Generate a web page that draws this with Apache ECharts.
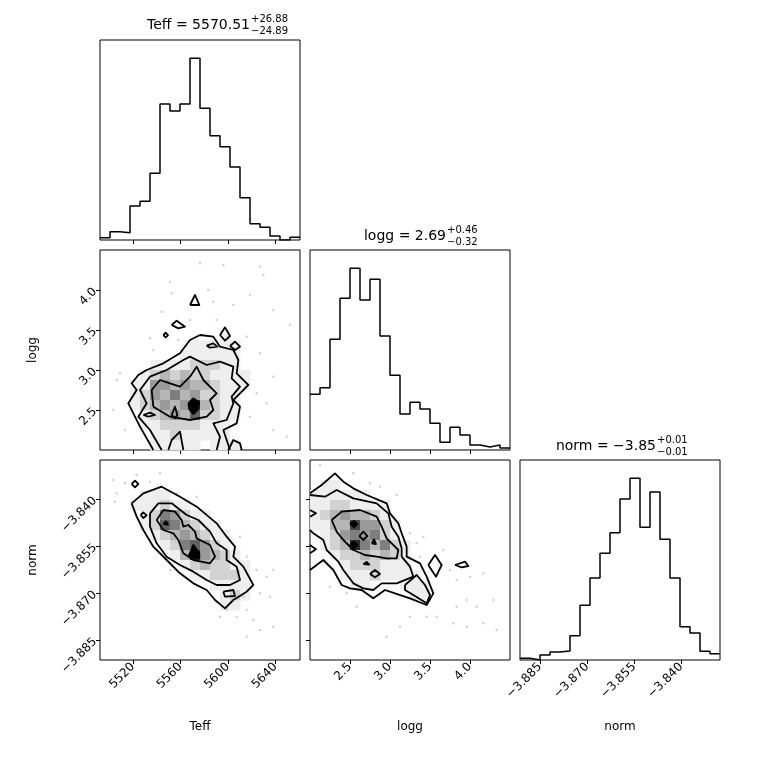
<!DOCTYPE html>
<html><head><meta charset="utf-8">
<script src="https://cdn.jsdelivr.net/npm/echarts@6/dist/echarts.min.js"></script>
<style>html,body{margin:0;background:#fff}#c{width:760px;height:760px}</style>
</head><body><div id="c"></div>
<script>
// ---- data ----
const paramNames = ['Teff','logg','norm'];
const teffRange = [5492.2, 5660.6];
const loggRange = [2.0, 4.5];
const normRange = [-3.8914, -3.8276];
const teffTicks = [5520, 5560, 5600, 5640];
const loggTicks = [2.5, 3.0, 3.5, 4.0];
const normTicks = [-3.885, -3.870, -3.855, -3.840];
// histogram heights (relative, 0-600 scale), 20 equal bins across axis range
const teffHist = [7,25,22,102,116,200,408,387,408,545,395,313,280,219,127,49,38,12,0,8];
const loggHist = [167,187,332,455,545,450,512,342,224,108,143,123,80,23,68,45,15,9,15,6];
const normHist = [5,0,15,24,27,73,164,246,320,382,483,545,398,504,362,246,100,81,26,19];
const titles = [
  {main:'Teff = 5570.51', up:'+26.88', dn:'\u221224.89'},
  {main:'logg = 2.69', up:'+0.46', dn:'\u22120.32'},
  {main:'norm = \u22123.85', up:'+0.01', dn:'\u22120.01'}
];
// 2D density, 20x20 bins, rows from top, digit = darkness level
const densTeffLogg = ["00000000000000000000","00000000000000000000","00000000000000000000","00000000000000000000",
"00000000000000000000","00000000000000000000","00000000000000000000","00000000000000000000",
"00000000000010000000","00000000011111000000","00000000111111000000","00000111122211000000",
"00001232322111100000","00011443433211100000","00012435342211000000","00012343483211000000",
"00001234362211000000","00001122221110000000","00000112111110000000","00000111110111000000"];
const densTeffNorm = ["00000000000000000000","00000000000000000000","00000000000000000000","00001110000000000000",
"00011121100000000000","00001254211000000000","00001265321100000000","00000123432110000000",
"00000012564210000000","00000001384321000000","00000000123221100000","00000000011222100000",
"00000000000111100000","00000000000012100000","00000000000011000000","00000000000000000000",
"00000000000000000000","00000000000000000000","00000000000000000000","00000000000000000000"];
const densLoggNorm = ["00000000000000000000","00000000000000000000","01100000000000000000","11111100000000000000",
"11221111000000000000","12343321000000000000","11337442100000000000","01245452100000000000",
"01238535210000000000","00122323210000000000","00012221110000000000","00011121111000000000",
"00001100011100000000","00000000001100000000","00000000000000000000","00000000000000000000",
"00000000000000000000","00000000000000000000","00000000000000000000","00000000000000000000"];
// contour polygons in panel fractions (0-600 across, 0-600 down); [points, filled]
const contTeffLogg = [
 [[[160,600],[120,530],[85,460],[110,420],[95,400],[115,375],[140,360],[190,340],[240,310],[270,270],[300,255],[340,260],[360,290],[400,300],[415,330],[410,370],[445,405],[420,430],[400,450],[420,470],[410,520],[370,540],[390,600]],0],
 [[[185,600],[150,540],[115,500],[140,460],[120,420],[150,380],[200,360],[250,330],[270,320],[320,345],[360,335],[400,350],[395,385],[420,410],[395,440],[400,460],[380,510],[340,520],[360,560],[350,600]],0],
 [[[160,470],[155,420],[180,390],[210,400],[240,410],[270,380],[290,350],[310,390],[350,430],[330,450],[340,480],[320,500],[270,510],[210,500],[160,470]],0],
 [[[270,165],[285,135],[298,165],[270,165]],0],
 [[[215,225],[230,212],[255,230],[235,235],[215,225]],0],
 [[[190,255],[197,248],[204,256],[197,262],[190,255]],0],
 [[[360,255],[375,232],[390,258],[375,272],[360,255]],0],
 [[[390,288],[405,275],[420,290],[405,300],[390,288]],0],
 [[[320,287],[340,280],[352,290],[330,293],[320,287]],0],
 [[[130,495],[150,488],[165,495],[145,500],[130,495]],0],
 [[[215,495],[225,470],[232,495],[225,505],[215,495]],0],
 [[[265,460],[280,445],[298,458],[292,480],[280,492],[268,478],[265,460]],1],
 [[[205,600],[215,570],[240,545],[250,600]],0],
 [[[385,600],[400,570],[420,580],[425,600]],0]
];
const contTeffNorm = [
 [[[95,130],[130,100],[185,80],[240,110],[290,140],[350,190],[380,230],[405,260],[400,290],[430,320],[460,375],[440,395],[400,420],[375,445],[345,420],[320,390],[280,370],[240,340],[200,300],[160,260],[130,210],[110,170],[95,130]],0],
 [[[150,160],[175,130],[215,130],[260,165],[295,180],[330,215],[350,250],[380,270],[380,300],[410,320],[420,360],[390,375],[350,375],[320,360],[280,335],[240,315],[200,290],[170,250],[150,200],[150,160]],0],
 [[[170,180],[190,150],[225,155],[245,180],[250,200],[265,195],[285,215],[290,235],[330,255],[345,290],[330,310],[280,300],[250,280],[235,240],[220,220],[190,210],[170,180]],0],
 [[[95,72],[105,62],[115,72],[105,82],[95,72]],0],
 [[[122,165],[130,157],[140,166],[130,174],[122,165]],0],
 [[[370,395],[400,390],[405,408],[375,410],[370,395]],0],
 [[[265,290],[280,255],[298,280],[298,295],[265,290]],1],
 [[[190,192],[198,184],[204,194],[190,192]],1]
];
const contLoggNorm = [
 [[[0,100],[35,75],[75,40],[100,65],[130,85],[170,105],[230,130],[240,160],[265,190],[275,220],[290,260],[290,290],[330,310],[350,350],[370,400],[350,435],[300,415],[255,400],[225,390],[190,415],[155,390],[120,385],[95,375],[70,330],[40,300],[0,330]],0],
 [[[0,105],[45,110],[80,90],[130,115],[200,130],[235,160],[245,200],[265,230],[275,265],[275,290],[300,320],[310,350],[260,370],[215,370],[190,390],[160,385],[130,370],[100,330],[85,305],[50,270],[40,240],[10,220],[0,210]],0],
 [[[65,180],[95,155],[150,150],[200,170],[215,200],[230,235],[265,270],[260,295],[230,295],[200,290],[165,285],[130,270],[100,240],[80,215],[65,180]],0],
 [[[285,375],[320,345],[345,375],[360,405],[350,430],[310,405],[285,390],[285,375]],0],
 [[[355,315],[375,285],[395,315],[378,350],[355,315]],0],
 [[[435,315],[465,305],[475,318],[455,322],[435,315]],0],
 [[[148,228],[160,215],[172,228],[160,240],[148,228]],0],
 [[[0,150],[18,160],[0,170]],0],
 [[[0,255],[18,268],[0,280]],0],
 [[[180,342],[195,330],[210,342],[195,352],[180,342]],0],
 [[[120,190],[132,183],[142,192],[132,202],[120,190]],1],
 [[[120,255],[132,245],[142,255],[132,265],[120,255]],1],
 [[[185,250],[192,238],[198,252],[185,250]],1],
 [[[160,312],[170,306],[178,314],[160,312]],1]
];
// scattered samples outside the contours, panel fractions
const dotsTeffLogg = [[370,45],[480,50],[490,75],[210,95],[325,120],[450,135],[185,185],[340,155],[400,165],[520,180],[270,210],[350,210],[570,225],[160,300],[440,260],[480,310],[470,430],[500,460],[520,380],[450,500],[60,370],[50,390],[40,480],[75,540],[150,265],[235,270],[520,540],[560,560],[300,40],[215,130]];
const dotsTeffNorm = [[40,60],[75,70],[110,45],[180,40],[150,65],[50,100],[45,125],[230,100],[290,110],[420,230],[440,290],[470,330],[500,350],[520,330],[480,400],[510,410],[440,450],[460,480],[480,510],[520,500],[440,530],[410,470],[430,410],[360,470],[380,450],[190,280],[210,330]];
const dotsLoggNorm = [[30,15],[130,40],[180,70],[210,80],[260,105],[300,220],[320,250],[340,230],[330,290],[400,270],[420,330],[440,360],[480,350],[520,340],[470,420],[440,440],[500,440],[550,420],[560,510],[430,490],[470,500],[520,490],[380,470],[350,470],[300,470],[270,500],[230,530],[140,440],[110,400],[60,380]];

// ---- helpers ----
const FONT = 'DejaVu Sans';
const toData = (p, xr, yr) => [xr[0] + p[0]/600*(xr[1]-xr[0]), yr[1] - p[1]/600*(yr[1]-yr[0])];
function histLine(counts, xr){
  const w = (xr[1]-xr[0])/counts.length, pts=[];
  counts.forEach((c,i)=>{pts.push([xr[0]+i*w,c]);pts.push([xr[0]+(i+1)*w,c]);});
  return pts;
}
function cells(dens, xr, yr){
  const out=[]; const wx=(xr[1]-xr[0])/20, wy=(yr[1]-yr[0])/20;
  dens.forEach((row,r)=>{for(let c=0;c<20;c++){const v=+row[c]; if(v>0){
    const y1=yr[1]-r*wy; out.push([xr[0]+c*wx, xr[0]+(c+1)*wx, y1-wy, y1, v]);}}});
  return out;
}
const fmtNorm = v => '\u2212' + Math.abs(v).toFixed(3);
const fmtTeff = v => String(Math.round(v));
const fmtLogg = v => v.toFixed(1);

const panels = [
  {g:0,left:100,top:40,xr:teffRange,xt:teffTicks,xf:fmtTeff,xl:false,hist:teffHist},
  {g:1,left:100,top:250,xr:teffRange,xt:teffTicks,xf:fmtTeff,xl:false,yr:loggRange,yt:loggTicks,yf:fmtLogg,yl:true,dens:densTeffLogg,cont:contTeffLogg,dots:dotsTeffLogg},
  {g:2,left:100,top:460,xr:teffRange,xt:teffTicks,xf:fmtTeff,xl:true,yr:normRange,yt:normTicks,yf:fmtNorm,yl:true,dens:densTeffNorm,cont:contTeffNorm,dots:dotsTeffNorm},
  {g:3,left:310,top:250,xr:loggRange,xt:loggTicks,xf:fmtLogg,xl:false,hist:loggHist},
  {g:4,left:310,top:460,xr:loggRange,xt:loggTicks,xf:fmtLogg,xl:true,yr:normRange,yt:normTicks,yf:fmtNorm,yl:false,dens:densLoggNorm,cont:contLoggNorm,dots:dotsLoggNorm},
  {g:5,left:520,top:460,xr:normRange,xt:normTicks,xf:fmtNorm,xl:true,hist:normHist}
];
const grid=[],xAxis=[],yAxis=[],series=[];
panels.forEach(p=>{
  grid.push({left:p.left,top:p.top,width:200,height:200,show:true,borderColor:'#000',borderWidth:1,backgroundColor:'#fff'});
  xAxis.push({type:'value',gridIndex:p.g,min:p.xr[0],max:p.xr[1],splitLine:{show:false},axisLine:{show:false},
    axisTick:{show:true,length:4,customValues:p.xt,lineStyle:{color:'#000'}},
    axisLabel:{show:p.xl,customValues:p.xt,formatter:p.xf,rotate:45,fontFamily:FONT,fontSize:12,color:'#000',margin:5}});
  if(p.hist){
    yAxis.push({type:'value',gridIndex:p.g,min:0,max:600,show:false,splitLine:{show:false}});
    series.push({type:'line',xAxisIndex:p.g,yAxisIndex:p.g,data:histLine(p.hist,p.xr),symbol:'none',
      lineStyle:{color:'#000',width:1.5},silent:true,z:5});
  } else {
    yAxis.push({type:'value',gridIndex:p.g,min:p.yr[0],max:p.yr[1],splitLine:{show:false},axisLine:{show:false},
      axisTick:{show:true,length:4,customValues:p.yt,lineStyle:{color:'#000'}},
      axisLabel:{show:p.yl,customValues:p.yt,formatter:p.yf,rotate:45,fontFamily:FONT,fontSize:12,color:'#000',margin:5}});
    series.push({type:'custom',xAxisIndex:p.g,yAxisIndex:p.g,data:cells(p.dens,p.xr,p.yr),silent:true,z:1,
      renderItem:(params,api)=>{
        const a=api.coord([api.value(0),api.value(3)]), b=api.coord([api.value(1),api.value(2)]);
        const v=api.value(4); const l=Math.round(238-(v-1)*28);
        return {type:'rect',shape:{x:a[0],y:a[1],width:b[0]-a[0]+0.5,height:b[1]-a[1]+0.5},
          style:{fill:`rgb(${l},${l},${l})`}};
      }});
    series.push({type:'scatter',xAxisIndex:p.g,yAxisIndex:p.g,data:p.dots.map(d=>toData(d,p.xr,p.yr)),
      symbolSize:2.5,itemStyle:{color:'#c8c8c8'},silent:true,z:2});
    const polys=p.cont;
    series.push({type:'custom',xAxisIndex:p.g,yAxisIndex:p.g,data:polys.map((q,i)=>[i]),silent:true,z:3,
      renderItem:(params,api)=>{
        const q=polys[params.dataIndex];
        const pts=q[0].map(pt=>api.coord(toData(pt,p.xr,p.yr)));
        return {type:'polyline',shape:{points:pts},
          style:{stroke:'#000',lineWidth:1.8,lineJoin:'round',fill:q[1]?'#000':null}};
      }});
  }
});
const graphic=[];
const tpos=[{x:250,y:25},{x:446,y:236},{x:656,y:446}];
titles.forEach((t,i)=>{
  graphic.push({type:'text',x:tpos[i].x,y:tpos[i].y,style:{text:t.main,font:'14px "DejaVu Sans"',fill:'#000',textAlign:'right',textVerticalAlign:'middle'}});
  graphic.push({type:'text',x:tpos[i].x+1,y:tpos[i].y-6,style:{text:t.up,font:'10px "DejaVu Sans"',fill:'#000',textAlign:'left',textVerticalAlign:'middle'}});
  graphic.push({type:'text',x:tpos[i].x+1,y:tpos[i].y+6,style:{text:t.dn,font:'10px "DejaVu Sans"',fill:'#000',textAlign:'left',textVerticalAlign:'middle'}});
});
[[200,727],[410,727],[620,727]].forEach((pos,i)=>graphic.push({type:'text',x:pos[0],y:pos[1],
  style:{text:paramNames[i],font:'12px "DejaVu Sans"',fill:'#000',textAlign:'center',textVerticalAlign:'middle'}}));
[[33,350,'logg'],[33,560,'norm']].forEach(a=>graphic.push({type:'text',x:a[0],y:a[1],rotation:Math.PI/2,
  style:{text:a[2],font:'12px "DejaVu Sans"',fill:'#000',textAlign:'center',textVerticalAlign:'middle'}}));

const chart=echarts.init(document.getElementById('c'),null,{renderer:'canvas'});
chart.setOption({animation:false,backgroundColor:'#fff',grid,xAxis,yAxis,series,graphic});
</script></body></html>
